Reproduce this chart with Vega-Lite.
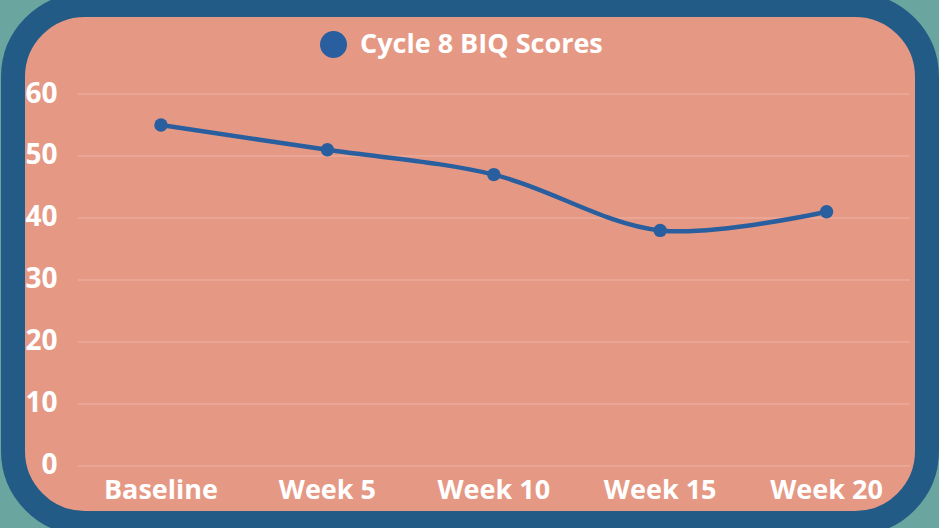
{
  "$schema": "https://vega.github.io/schema/vega-lite/v6.json",
  "width": 914,
  "height": 518,
  "autosize": "none",
  "padding": {"left": 13, "top": 5, "right": 12, "bottom": 5},
  "background": "#6aa59f",
  "config": {
    "font": "Open Sans",
    "view": {"fill": "#e59985", "stroke": "#235b87", "strokeWidth": 24, "cornerRadius": 72}
  },
  "layer": [
    {
      "data": {"values": [{"v": 0}, {"v": 10}, {"v": 20}, {"v": 30}, {"v": 40}, {"v": 50}, {"v": 60}]},
      "mark": {"type": "rule", "color": "#f0b4a4", "strokeWidth": 1},
      "encoding": {
        "y": {
          "field": "v",
          "type": "quantitative",
          "scale": {"domain": [-9.194, 74.355], "nice": false, "zero": false},
          "axis": {
            "values": [0, 10, 20, 30, 40, 50, 60],
            "title": null,
            "domain": false,
            "ticks": false,
            "tickSize": 0,
            "grid": false,
            "offset": -48,
            "labelPadding": 4,
            "labelFontSize": 28,
            "labelFontWeight": "bold",
            "labelColor": "#ffffff",
            "labelFont": "Open Sans"
          }
        },
        "x": {"datum": 0, "type": "quantitative", "scale": {"domain": [-0.0779, 1.0207], "nice": false, "zero": false}, "axis": null},
        "x2": {"datum": 1}
      }
    },
    {
      "data": {
        "values": [
          {"week": "Baseline", "score": 55, "series": "Cycle 8 BIQ Scores"},
          {"week": "Week 5", "score": 51, "series": "Cycle 8 BIQ Scores"},
          {"week": "Week 10", "score": 47, "series": "Cycle 8 BIQ Scores"},
          {"week": "Week 15", "score": 38, "series": "Cycle 8 BIQ Scores"},
          {"week": "Week 20", "score": 41, "series": "Cycle 8 BIQ Scores"}
        ]
      },
      "mark": {"type": "line", "interpolate": "catmull-rom", "strokeWidth": 4.5, "point": {"filled": true, "size": 180}},
      "encoding": {
        "x": {
          "field": "week",
          "type": "nominal",
          "sort": null,
          "scale": {"type": "band", "paddingInner": 0, "paddingOuter": 0.2464, "align": 0.79},
          "axis": {
            "title": null,
            "orient": "bottom",
            "offset": -25,
            "domain": false,
            "ticks": false,
            "tickSize": 0,
            "grid": false,
            "labelAngle": 0,
            "labelBaseline": "alphabetic",
            "labelPadding": 0,
            "labelFontSize": 27,
            "labelFontWeight": "bold",
            "labelColor": "#ffffff",
            "labelFont": "Open Sans",
            "labelLimit": 0
          }
        },
        "y": {"field": "score", "type": "quantitative"},
        "color": {
          "field": "series",
          "type": "nominal",
          "scale": {"range": ["#2a5f9f"]},
          "legend": {
            "title": null,
            "orient": "none",
            "legendX": 307,
            "legendY": 26,
            "padding": 0,
            "symbolType": "circle",
            "symbolSize": 729,
            "symbolStrokeWidth": 0,
            "labelOffset": 13,
            "labelFontSize": 27,
            "labelFontWeight": "bold",
            "labelColor": "#ffffff",
            "labelFont": "Open Sans",
            "labelLimit": 0
          }
        }
      }
    }
  ],
  "resolve": {"scale": {"x": "independent"}, "axis": {"x": "independent"}}
}
